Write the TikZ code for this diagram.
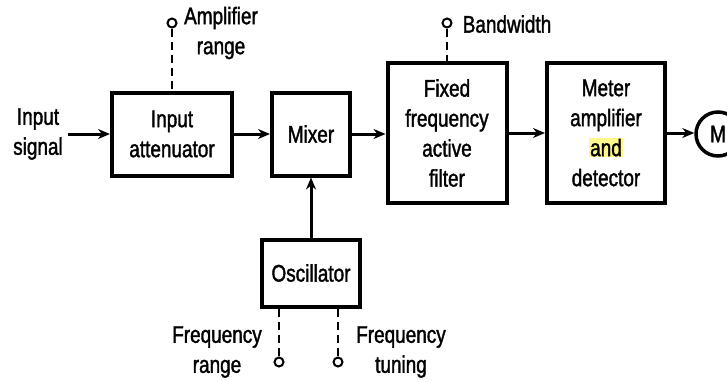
\documentclass[tikz,border=0pt]{standalone}
\usepackage{fontspec}
\setmainfont{Liberation Sans}[FakeStretch=0.79,FakeBold=1.5]
\usepackage{tikz}
\usetikzlibrary{arrows.meta}

\begin{document}
\begin{tikzpicture}[x=1pt,y=-1pt,>={Stealth[length=12pt,width=10pt]},
  font=\fontsize{24}{30}\selectfont,
  block/.style={rectangle,draw=black,line width=4pt,fill=white,align=center,inner sep=0pt},
  flow/.style={->,draw=black,line width=3pt},
  term/.style={circle,draw=black,fill=white,line width=2pt,minimum size=9pt,inner sep=0pt},
  ctrl/.style={draw=black,line width=2.5pt,dash pattern=on 8pt off 5pt},
  lbl/.style={align=center,inner sep=0pt}]
\useasboundingbox (0,0) rectangle (727,381);
% main chain
\node[lbl,inner xsep=5pt] (in) at (38,134) {Input\\signal};
\node[block,minimum width=120pt,minimum height=83pt] (att) at (172,134) {Input\\attenuator};
\node[block,minimum width=78pt,minimum height=83pt] (mix) at (311,134) {Mixer};
\node[block,minimum width=119pt,minimum height=140pt] (filt) at (447,133) {Fixed\\frequency\\active\\filter};
\node[block,minimum width=118pt,minimum height=140pt] (met) at (606,133) {Meter\\amplifier\\{\setlength\fboxsep{1pt}\colorbox{yellow!45}{and}}\\detector};
\node[circle,draw=black,line width=3.5pt,fill=white,minimum size=44pt,inner sep=0pt] (mtr) at (718,134) {M};
\node[block,minimum width=98pt,minimum height=67pt] (osc) at (311,273) {Oscillator};
% control terminals
\node[term] (art) at (172,23) {};
\node[term] (bwt) at (447,23) {};
\node[term] (frt) at (279,362) {};
\node[term] (ftt) at (338,362) {};
\node[lbl] (artl) at (221,33) {Amplifier\\range};
\node[lbl] (bwtl) at (507,24) {Bandwidth};
\node[lbl] (frtl) at (217,352) {Frequency\\range};
\node[lbl] (fttl) at (401,352) {Frequency\\tuning};
% connectors
\draw[flow] (in) -- (att);
\draw[flow] (att) -- (mix);
\draw[flow] (mix.east) -- (mix.east -| filt.west);
\draw[flow] (filt) -- (met);
\draw[flow] (met.east) -- (met.east -| mtr.west);
\draw[flow] (osc) -- (mix);
\draw[ctrl] (art) -- (art |- att.north);
\draw[ctrl] (bwt) -- (bwt |- filt.north);
\draw[ctrl] (frt |- osc.south) -- (frt);
\draw[ctrl] (ftt |- osc.south) -- (ftt);
\end{tikzpicture}
\end{document}
